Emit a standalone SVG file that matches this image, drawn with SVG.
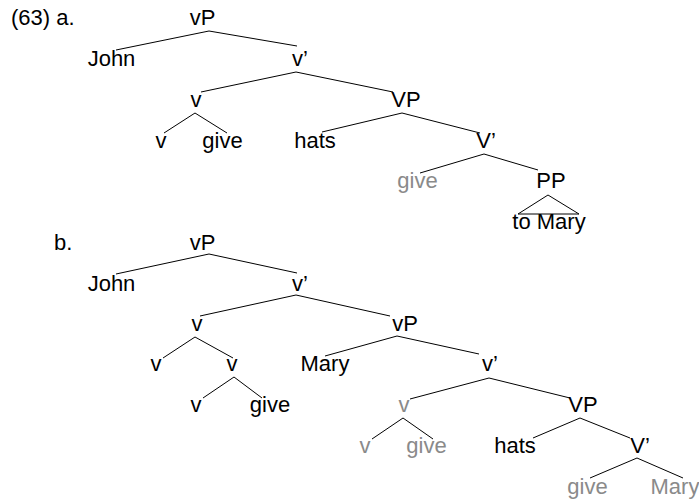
<svg xmlns="http://www.w3.org/2000/svg" width="699" height="499" viewBox="0 0 699 499">
<style>
text{font-family:"Liberation Sans",Arial,Helvetica,sans-serif;font-size:22px;fill:#000;text-anchor:middle}
text.g{fill:#8a8a8a}
text.l{text-anchor:start}
.e line,.e polygon{stroke:#000;stroke-width:1;fill:none}
</style>
<rect width="699" height="499" fill="#fff"/>
<g id="labels">
<text class="l" x="11" y="25">(63) a.</text>
<text class="l" x="54" y="250">b.</text>
</g>
<g id="treeA">
<g id="a-vP"><text x="202.5" y="25">vP</text></g>
<g id="a-John"><text x="111.5" y="65.5">John</text></g>
<g id="a-v1"><text x="300" y="65.5">v’</text></g>
<g id="a-v"><text x="196" y="107">v</text></g>
<g id="a-VP"><text x="406" y="106.5">VP</text></g>
<g id="a-v2"><text x="161" y="147.5">v</text></g>
<g id="a-give"><text x="222.5" y="147.5">give</text></g>
<g id="a-hats"><text x="315" y="147.5">hats</text></g>
<g id="a-V1"><text x="486" y="147.5">V’</text></g>
<g id="a-give2"><text class="g" x="417.5" y="188">give</text></g>
<g id="a-PP"><text x="551" y="188">PP</text></g>
<g id="a-toMary"><text x="549" y="228.5">to Mary</text></g>
</g>
<g id="treeB">
<g id="b-vP"><text x="202.5" y="249.5">vP</text></g>
<g id="b-John"><text x="111.5" y="290.5">John</text></g>
<g id="b-v1"><text x="300" y="290.5">v’</text></g>
<g id="b-v"><text x="197" y="331">v</text></g>
<g id="b-vP2"><text x="405" y="331">vP</text></g>
<g id="b-v2"><text x="156" y="371">v</text></g>
<g id="b-v3"><text x="232" y="371">v</text></g>
<g id="b-Mary"><text x="325" y="371">Mary</text></g>
<g id="b-v1b"><text x="490" y="371">v’</text></g>
<g id="b-v4"><text x="196" y="411.5">v</text></g>
<g id="b-give"><text x="270" y="411.5">give</text></g>
<g id="b-vg"><text class="g" x="404" y="411.5">v</text></g>
<g id="b-VP"><text x="583" y="411.5">VP</text></g>
<g id="b-vg2"><text class="g" x="365" y="452.5">v</text></g>
<g id="b-giveg"><text class="g" x="426.5" y="452.5">give</text></g>
<g id="b-hats"><text x="515" y="452.5">hats</text></g>
<g id="b-V1"><text x="640" y="452.5">V’</text></g>
<g id="b-giveg2"><text class="g" x="587.5" y="493.5">give</text></g>
<g id="b-Maryg"><text class="g" x="675" y="493.5">Mary</text></g>
</g>
<g id="connectors" class="e">
<line x1="209" y1="31" x2="116" y2="50"/>
<line x1="209" y1="31" x2="297" y2="46"/>
<line x1="296" y1="72" x2="201" y2="92"/>
<line x1="296" y1="72" x2="393" y2="92"/>
<line x1="195" y1="113" x2="164" y2="133"/>
<line x1="195" y1="113" x2="227" y2="133"/>
<line x1="402" y1="113" x2="322" y2="132"/>
<line x1="402" y1="113" x2="480" y2="133"/>
<line x1="484" y1="154" x2="420" y2="173"/>
<line x1="484" y1="154" x2="538" y2="170"/>
<polygon points="548,195 518,214 579,214"/>
<line x1="209" y1="254" x2="116" y2="274"/>
<line x1="209" y1="254" x2="297" y2="273"/>
<line x1="296" y1="295" x2="200" y2="316"/>
<line x1="296" y1="295" x2="390" y2="316"/>
<line x1="195" y1="337" x2="163" y2="358"/>
<line x1="195" y1="337" x2="233" y2="358"/>
<line x1="234" y1="377" x2="203" y2="398"/>
<line x1="234" y1="377" x2="262" y2="398"/>
<line x1="397" y1="336" x2="325" y2="356"/>
<line x1="397" y1="336" x2="479" y2="354"/>
<line x1="489" y1="378" x2="410" y2="399"/>
<line x1="489" y1="378" x2="570" y2="398"/>
<line x1="403" y1="418" x2="372" y2="439"/>
<line x1="403" y1="418" x2="433" y2="439"/>
<line x1="580" y1="418" x2="533" y2="438"/>
<line x1="580" y1="418" x2="630" y2="438"/>
<line x1="637" y1="458" x2="590" y2="478"/>
<line x1="637" y1="458" x2="683" y2="478"/>
</g>
</svg>
